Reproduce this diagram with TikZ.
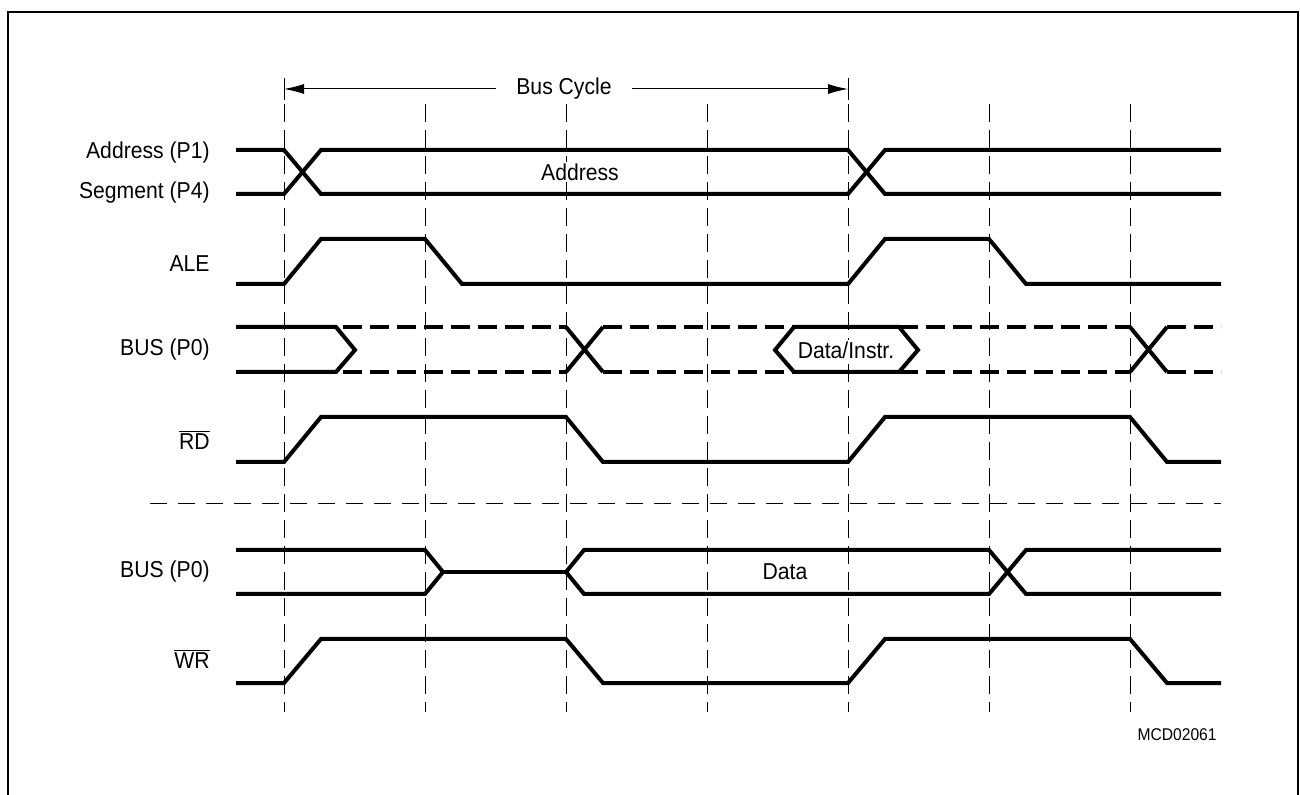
\documentclass[tikz,border=0pt]{standalone}
\usepackage{fontspec}
\setmainfont{Liberation Sans}[FakeStretch=0.92]
\usetikzlibrary{arrows.meta}
\tikzset{
  >={Latex[length=10pt,width=5pt]},
  sigline/.style={line width=2pt, line join=miter},
  busline/.style={line width=2pt, dash pattern=on 9.5pt off 4pt},
  phaseline/.style={line width=0.5pt, dash pattern=on 9pt off 4pt},
  sepline/.style={line width=0.5pt, dash pattern=on 8.5pt off 5.5pt},
  sigtext/.style={inner sep=0pt, font=\fontsize{11.5}{13}\selectfont},
  siglabel/.style={sigtext, anchor=east}
}
\begin{document}
\begin{tikzpicture}[x=0.5pt, y=-0.5pt]
  \useasboundingbox (0,0) rectangle (1300,795);
  \draw[line width=1pt] (8,795) -- (8,12) -- (1298,12) -- (1298,795);

  % clock phases
  \foreach \t in {284,425,...,1130}
    \draw[phaseline] (\t,104) -- (\t,712);

  % bus cycle
  \coordinate (cycL) at (284,89);
  \coordinate (cycR) at (848,89);
  \draw[line width=0.5pt] (284,78) -- (284,100) (848,78) -- (848,100);
  \node[sigtext, minimum width=67.5pt] (cyc) at (564,89) {Bus Cycle};
  \draw[->, line width=0.5pt] (cyc) -- (cycL);
  \draw[->, line width=0.5pt] (cyc) -- (cycR);

  % address / segment
  \draw[sigline] (236,150) -- (284,150) -- (321,194) -- (848,194) -- (885,150) -- (1221,150);
  \draw[sigline] (236,194) -- (284,194) -- (321,150) -- (848,150) -- (885,194) -- (1221,194);

  % ALE
  \draw[sigline] (236,284) -- (284,284) -- (321,239) -- (425,239) -- (462,284)
    -- (848,284) -- (885,239) -- (989,239) -- (1026,284) -- (1221,284);

  % bus, read cycle
  \draw[sigline] (236,327) -- (336,327) -- (355,350) -- (336,372) -- (236,372);
  \draw[busline] (343,327) -- (566,327) (343,372) -- (566,372);
  \draw[sigline] (566,327) -- (603,372) (566,372) -- (603,327);
  \draw[busline] (603,327) -- (794,327) (603,372) -- (794,372);
  \draw[sigline] (794,327) -- (899,327) -- (918,350) -- (899,372) -- (794,372) -- (775,350) -- cycle;
  \draw[busline] (899,327) -- (1130,327) (899,372) -- (1130,372);
  \draw[sigline] (1130,327) -- (1167,372) (1130,372) -- (1167,327);
  \draw[busline] (1167,327) -- (1221,327) (1167,372) -- (1221,372);

  % RD
  \draw[sigline] (236,462) -- (284,462) -- (321,417) -- (566,417) -- (603,462)
    -- (848,462) -- (885,417) -- (1130,417) -- (1167,462) -- (1221,462);

  \draw[sepline] (150,504) -- (1221,504);

  % bus, write cycle
  \draw[sigline] (236,550) -- (425,550) -- (443,572) -- (425,594) -- (236,594);
  \draw[sigline] (443,572) -- (566,572);
  \draw[sigline] (1221,550) -- (1026,550) -- (989,594) -- (584,594) -- (566,572)
    -- (584,550) -- (989,550) -- (1026,594) -- (1221,594);

  % WR
  \draw[sigline] (236,683) -- (284,683) -- (321,639) -- (566,639) -- (603,683)
    -- (848,683) -- (885,639) -- (1130,639) -- (1167,683) -- (1221,683);

  \node[siglabel] (addr) at (210,153) {Address (P1)};
  \node[siglabel] (seg) at (210,193) {Segment (P4)};
  \node[siglabel] (ale) at (210,264) {ALE};
  \node[siglabel] (busr) at (210,350) {BUS (P0)};
  \node[siglabel] (rd) at (210,440) {$\overline{\mbox{RD}}$};
  \node[siglabel] (busw) at (210,572) {BUS (P0)};
  \node[siglabel] (wr) at (210,659) {$\overline{\mbox{WR}}$};

  \node[sigtext, fill=white, inner sep=1pt] (adr) at (580,172) {Address};
  \node[sigtext, fill=white, inner sep=1pt] (rdata) at (846,350) {Data/Instr.};
  \node[sigtext] (wdata) at (785,572) {Data};
  \node[sigtext, anchor=east, font=\fontsize{8.5}{10}\selectfont] (mcd) at (1217,735) {MCD02061};
\end{tikzpicture}
\end{document}
